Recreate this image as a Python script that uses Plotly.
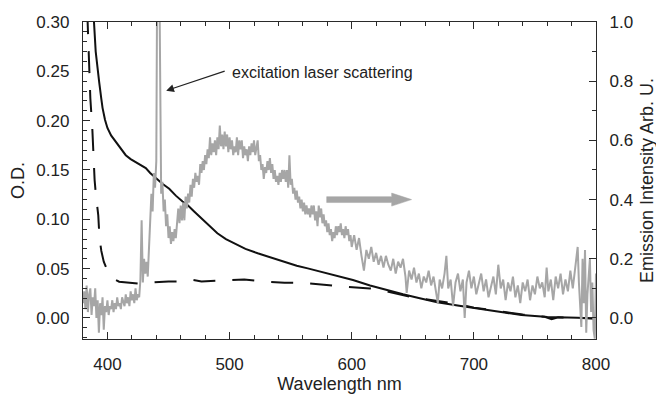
import plotly.graph_objects as go

# ---- absorption (solid, left axis) ----
abs_wl = [388.5, 389, 390.4, 392, 393.2, 395, 396, 398, 400, 403, 406.8, 410, 415, 419, 423,
          427, 431.4, 435, 439.6, 445, 450.6, 456, 461.5, 466, 471, 480, 490, 497, 504, 513,
          523, 534, 545, 555, 564, 574, 585, 601, 615, 628.5, 642, 655.7, 670, 688, 700,
          711.7, 725, 739, 758, 763.7, 769, 785, 800]
abs_od = [0.32, 0.30, 0.27, 0.25, 0.2395, 0.222, 0.213, 0.201, 0.1926, 0.185, 0.1787, 0.173, 0.165, 0.161, 0.158,
          0.155, 0.152, 0.147, 0.1416, 0.136, 0.131, 0.124, 0.118, 0.114, 0.108, 0.097, 0.0858, 0.080, 0.0757, 0.070,
          0.0656, 0.061, 0.057, 0.053, 0.0503, 0.047, 0.043, 0.0385, 0.033, 0.0284, 0.024, 0.020, 0.016, 0.0125, 0.010,
          0.0081, 0.0055, 0.003, 0.0013, -0.0013, 0.0007, 0.0003, -0.0005]

# ---- reference absorption (dashed, left axis) ----
ref_wl = [383.5, 384.4, 386, 387.7, 388.8, 389.5, 390.4, 391.5, 392.5, 393.5, 395, 397, 400, 403, 406,
          409.6, 415, 425, 435, 442.6, 450, 457, 470, 477, 493, 512, 527, 545, 562, 578,
          594, 615, 630, 650, 665, 683, 700, 720, 740, 760, 780, 800]
ref_od = [0.31, 0.274, 0.223, 0.19, 0.155, 0.14, 0.127, 0.112, 0.104, 0.081, 0.068, 0.057, 0.048, 0.043, 0.039,
          0.0368, 0.036, 0.035, 0.036, 0.0368, 0.037, 0.037, 0.0385, 0.037, 0.0378, 0.039, 0.037, 0.0358, 0.0355, 0.0334,
          0.0317, 0.030, 0.0265, 0.021, 0.018, 0.015, 0.0105, 0.007, 0.0035, 0.001, 0.0002, -0.0005]

# ---- emission (grey, right axis) ----
em_wl = [380, 381, 382, 383, 384, 385, 386, 387, 388, 389,
         390, 391, 392, 393, 394, 395, 396, 397, 398, 399,
         400, 401, 402, 403, 404, 405, 406, 407, 408, 409,
         410, 411, 412, 413, 414, 415, 416, 417, 418, 419,
         420, 421, 422, 423, 424, 425, 426, 427, 428, 429,
         430, 431, 432, 433, 434, 435, 436, 437, 438, 439,
         440, 441, 442, 444, 445, 446, 447, 448, 449,
         450, 451, 452, 453, 454, 455, 456, 457, 458, 459,
         460, 461, 462, 463, 464, 465, 466, 467, 468, 469,
         470, 471, 472, 473, 474, 475, 476, 477, 478, 479,
         480, 481, 482, 483, 484, 485, 486, 487, 488, 489,
         490, 491, 492, 493, 494, 495, 496, 497, 498, 499,
         500, 501, 502, 503, 504, 505, 506, 507, 508, 509,
         510, 511, 512, 513, 514, 515, 516, 517, 518, 519,
         520, 521, 522, 523, 524, 525, 526, 527, 528, 529,
         530, 531, 532, 533, 534, 535, 536, 537, 538, 539,
         540, 541, 542, 543, 544, 545, 546, 547, 548, 549,
         550, 551, 552, 553, 554, 555, 556, 557, 558, 559,
         560, 561, 562, 563, 564, 565, 566, 567, 568, 569,
         570, 571, 572, 573, 574, 575, 576, 577, 578, 579,
         580, 581, 582, 583, 584, 585, 586, 587, 588, 589,
         590, 591, 592, 593, 594, 595, 596, 597, 598, 599,
         600, 602, 604, 606, 608, 610, 612, 614, 616, 618,
         620, 622, 624, 626, 628, 630, 632, 634, 636, 638,
         640, 642, 644, 645, 647, 649, 651, 653, 655, 657,
         659, 661, 663, 665, 667, 669, 670.5, 672, 674, 676,
         677.5, 679, 681, 683, 685, 687, 689, 691, 692.5, 694,
         696, 698, 700, 702, 704, 706, 708, 710, 712, 714,
         716, 718, 720, 722, 724, 726, 728, 730, 732, 734,
         736, 738, 740, 742, 744, 746, 748, 750, 752, 754,
         756, 758, 759.6, 761, 763, 765, 767, 769, 771, 773,
         775, 777, 779, 781, 783, 785, 786, 788, 789, 790,
         791, 792, 793, 795, 796, 797, 798, 799, 800]
em_int = [0.05, 0.09, 0.03, 0.11, 0.02, 0.08, 0.10, 0.01, 0.07, 0.04,
          0.10, 0.00, 0.06, -0.05, 0.05, 0.01, 0.07, -0.04, 0.04, 0.02,
          0.06, 0.01, 0.04, 0.03, 0.06, 0.02, 0.05, 0.03, 0.07, 0.04,
          0.05, 0.03, 0.07, 0.05, 0.04, 0.08, 0.05, 0.07, 0.04, 0.09,
          0.06, 0.08, 0.05, 0.10, 0.06, 0.08, 0.07, 0.13, 0.33, 0.12,
          0.20, 0.15, 0.19, 0.14, 0.22, 0.31, 0.42, 0.36, 0.49, 0.44,
          0.53, 1.40, 1.40, 0.42, 0.46, 0.36, 0.40, 0.31, 0.35,
          0.27, 0.31, 0.25, 0.29, 0.26, 0.30, 0.27, 0.34, 0.37, 0.32,
          0.38, 0.33, 0.39, 0.33, 0.41, 0.37, 0.42, 0.39, 0.45, 0.41,
          0.47, 0.44, 0.49, 0.46, 0.48, 0.45, 0.52, 0.49, 0.53, 0.50,
          0.55, 0.52, 0.57, 0.54, 0.61, 0.55, 0.59, 0.56, 0.60, 0.55,
          0.61, 0.57, 0.65, 0.58, 0.62, 0.57, 0.63, 0.58, 0.62, 0.56,
          0.61, 0.57, 0.60, 0.55, 0.58, 0.56, 0.61, 0.55, 0.60, 0.57,
          0.60, 0.54, 0.58, 0.55, 0.57, 0.53, 0.58, 0.55, 0.59, 0.56,
          0.60, 0.55, 0.58, 0.60, 0.53, 0.55, 0.50, 0.52, 0.47, 0.51,
          0.49, 0.53, 0.50, 0.54, 0.49, 0.52, 0.47, 0.50, 0.46, 0.48,
          0.45, 0.49, 0.46, 0.50, 0.47, 0.50, 0.46, 0.50, 0.44, 0.55,
          0.45, 0.47, 0.42, 0.44, 0.40, 0.43, 0.39, 0.41, 0.37, 0.40,
          0.36, 0.39, 0.35, 0.38, 0.35, 0.37, 0.34, 0.38, 0.35, 0.38,
          0.33, 0.36, 0.31, 0.38, 0.34, 0.37, 0.32, 0.35, 0.31, 0.33,
          0.29, 0.32, 0.28, 0.30, 0.26, 0.29, 0.27, 0.31, 0.28, 0.31,
          0.29, 0.32, 0.28, 0.30, 0.27, 0.31, 0.28, 0.30, 0.26, 0.28,
          0.24, 0.28, 0.23, 0.27, 0.21, 0.16, 0.23, 0.20, 0.24, 0.19,
          0.22, 0.18, 0.21, 0.17, 0.21, 0.18, 0.16, 0.20, 0.15, 0.19,
          0.17, 0.20, 0.14, 0.085, 0.16, 0.13, 0.17, 0.12, 0.15, 0.10,
          0.14, 0.12, 0.16, 0.11, 0.14, 0.09, 0.05, 0.13, 0.10, 0.15,
          0.21, 0.10, 0.13, 0.04, 0.12, 0.15, 0.09, 0.13, 0.00, 0.12,
          0.16, 0.10, 0.14, 0.08, 0.12, 0.15, 0.09, 0.13, 0.07, 0.11,
          0.14, 0.08, 0.18, 0.10, 0.13, 0.06, 0.12, 0.09, 0.14, 0.07,
          0.11, 0.05, 0.12, 0.09, 0.13, 0.06, 0.11, 0.08, 0.14, 0.10,
          0.12, 0.07, 0.17, 0.09, 0.13, 0.06, 0.14, 0.10, 0.15, 0.08,
          0.13, 0.09, 0.16, 0.10, 0.18, 0.24, 0.12, -0.03, 0.20, 0.05,
          0.23, -0.05, 0.08, 0.20, 0.02, 0.12, -0.04, -0.07, 0.15]

x_range = [380, 800]
od_range = [-0.0213, 0.30]
em_range = [-0.071, 1.0]

FONT = "Liberation Sans, Arial, sans-serif"
AX = "#2a2a2a"
GREY = "#a6a6a6"

fig = go.Figure()
fig.add_trace(go.Scatter(x=abs_wl, y=abs_od, mode="lines",
                         line=dict(color="#111111", width=2), showlegend=False))
fig.add_trace(go.Scatter(x=ref_wl, y=ref_od, mode="lines",
                         line=dict(color="#111111", width=2, dash="22px,17px"), showlegend=False))
fig.add_trace(go.Scatter(x=em_wl, y=em_int, mode="lines", yaxis="y2",
                         line=dict(color=GREY, width=2), showlegend=False))

common = dict(showline=True, linecolor=AX, linewidth=1.3, ticks="inside", ticklen=7,
              tickwidth=1.2, tickcolor=AX, showgrid=False, zeroline=False, automargin=False,
              tickfont=dict(family=FONT, size=17, color="#222"),
              ticklabelstandoff=9)

# the page body adds an 8px offset, so the figure is 8px smaller and margins shifted
fig.update_layout(
    width=656, height=386,
    margin=dict(l=75, r=68, t=14, b=55),
    paper_bgcolor="white", plot_bgcolor="white",
    xaxis=dict(range=x_range, tick0=400, dtick=100, mirror="ticks",
               minor=dict(ticks="inside", ticklen=4, dtick=20, tick0=380, tickcolor=AX, tickwidth=1.1),
               title=dict(text="Wavelength nm", font=dict(family=FONT, size=18, color="#222"), standoff=6),
               **common),
    yaxis=dict(range=od_range, tick0=0, dtick=0.05, tickformat=".2f",
               minor=dict(ticks="inside", ticklen=4, dtick=0.01, tick0=0, tickcolor=AX, tickwidth=1.1),
               title=dict(text="O.D.", font=dict(family=FONT, size=18, color="#222"), standoff=10),
               **common),
    yaxis2=dict(range=em_range, overlaying="y", side="right", tick0=0, dtick=0.2, tickformat=".1f",
                minor=dict(ticks="inside", ticklen=4, dtick=0.1, tick0=0, tickcolor=AX, tickwidth=1.1),
                title=dict(text="Emission Intensity Arb. U.", font=dict(family=FONT, size=18, color="#222"), standoff=8),
                **common),
)

# grey block arrow pointing to right axis
fig.add_shape(type="path", xref="x", yref="y2",
              path="M 579.5,0.39 L 632.7,0.39 L 632.7,0.378 L 649,0.4 L 632.7,0.422 L 632.7,0.41 L 579.5,0.41 Z",
              fillcolor=GREY, line=dict(color=GREY, width=0.5))

# label and arrow for laser scattering
fig.add_annotation(x=500, y=0.831, xref="x", yref="y2", text="excitation laser scattering",
                   showarrow=False, xanchor="left", yanchor="middle",
                   font=dict(family=FONT, size=16, color="#222"))
fig.add_annotation(x=448.1, y=0.768, xref="x", yref="y2", text="", showarrow=True,
                   ax=60, ay=-20, arrowhead=2, arrowsize=1.3, arrowwidth=1.2, arrowcolor="#222")

fig.write_html("out.html")
